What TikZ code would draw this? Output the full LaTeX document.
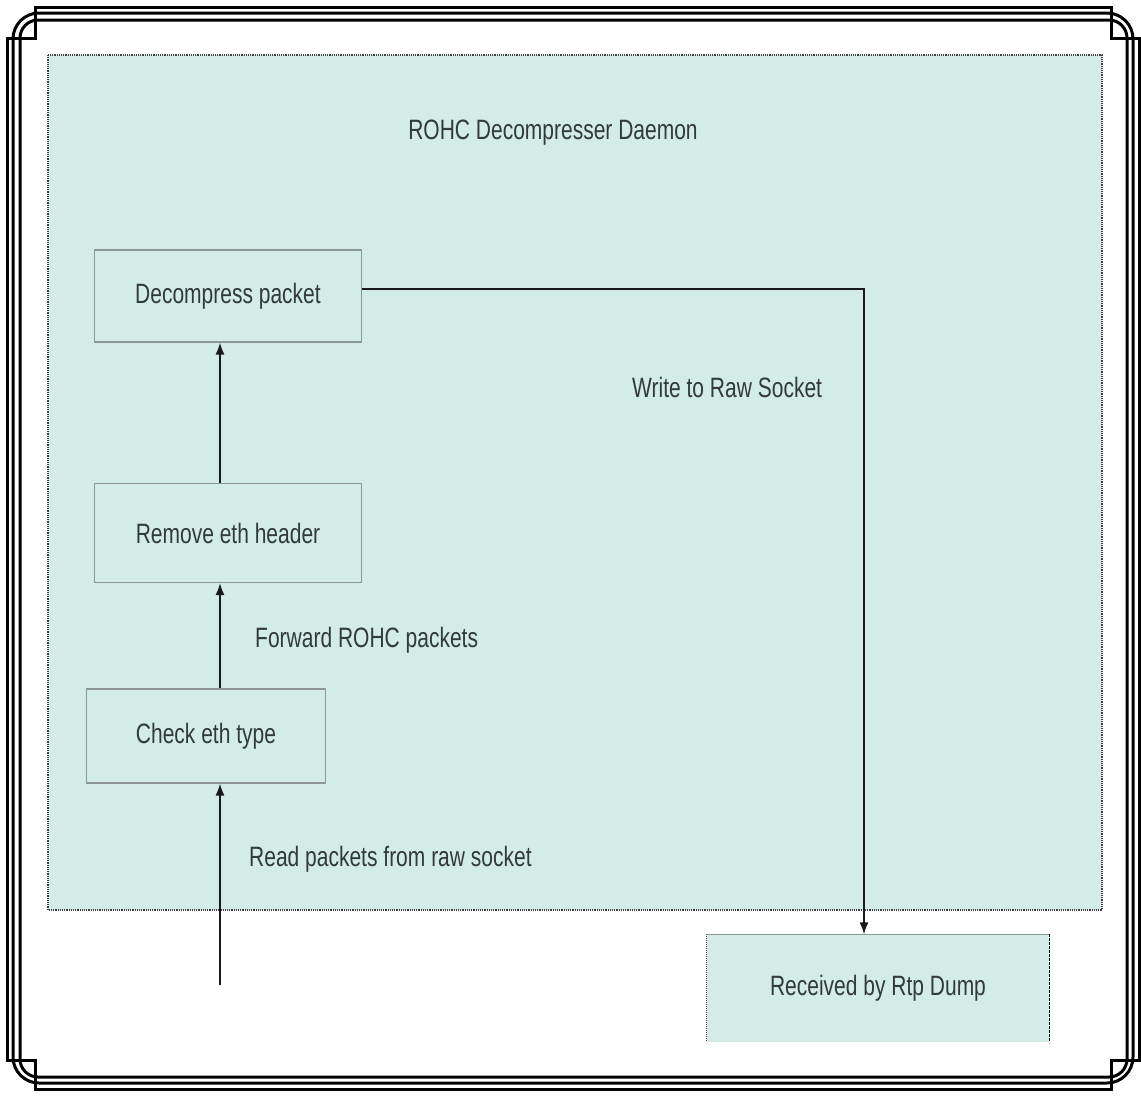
\documentclass[tikz,border=0pt]{standalone}
\usepackage{fontspec}
\setmainfont{Liberation Sans}[FakeStretch=0.75]
\usepackage{xcolor}
\usepackage{tikz}
\usetikzlibrary{arrows, arrows.meta, positioning, calc}
\definecolor{panelcyan}{RGB}{211,236,232}
\definecolor{inkgray}{RGB}{50,58,58}
\definecolor{edgegray}{RGB}{140,150,150}

\begin{document}
\begin{tikzpicture}[x=1pt, y=-1pt,
    every node/.style={font=\fontsize{28}{32}\selectfont},
    procbox/.style={draw=edgegray, fill=panelcyan, line width=1.2pt, text=inkgray, inner sep=0pt},
    lbl/.style={text=inkgray, inner sep=0pt, anchor=west},
    flow/.style={draw=black!90, line width=1.6pt, -{Latex[length=12pt, width=9pt]}},
    frameline/.style={line width=3pt}]
    \useasboundingbox (0,0) rectangle (1141,1096);

    % The Page Border
    \draw[frameline, rounded corners=26] (13,13) rectangle (1133,1083);
    \draw[frameline, rounded corners=18] (20,20) rectangle (1127,1077);
    \draw[frameline] (35,7) -- (1111,7) -- (1111,38) -- (1139,38) -- (1139,1060)
        -- (1111,1060) -- (1111,1089) -- (35,1089) -- (35,1060) -- (7,1060)
        -- (7,38) -- (35,38) -- cycle;

    % The Daemon (Background Panel)
    \draw[black!75, densely dotted, line width=1.2pt, fill=panelcyan] (48,55) rectangle (1102,910);
    \node[lbl, anchor=center] (title) at (553,133) {ROHC Decompresser Daemon};

    % The Steps
    \node[procbox, minimum width=267, minimum height=92] (decomp) at (228,296) {Decompress packet};
    \node[procbox, minimum width=267, minimum height=99] (remove) at (228,533) {Remove eth header};
    \node[procbox, minimum width=239, minimum height=94] (check) at (206,736) {Check eth type};

    % The Receiver
    \node[fill=panelcyan, text=inkgray, inner sep=0pt, minimum width=342, minimum height=107] (rtpdump) at (878,988) {Received by Rtp Dump};
    \draw[edgegray, line width=1.2pt] (rtpdump.north west) -- (rtpdump.north east);
    \draw[black!70, densely dotted, line width=1pt] (rtpdump.north west) -- (rtpdump.south west);
    \draw[black, dash pattern=on 3pt off 1pt, line width=1.2pt] (rtpdump.north east) -- (rtpdump.south east);

    % The Flow
    \coordinate (rawin) at (220,985);
    \coordinate (bend) at (864,289);
    \draw[flow] (rawin) -- (rawin |- check.south);
    \draw[flow] (rawin |- check.north) -- (rawin |- remove.south);
    \draw[flow] (rawin |- remove.north) -- (rawin |- decomp.south);
    \draw[flow] (decomp.east |- bend) -- (bend) -- (bend |- rtpdump.north);

    % Annotation
    \node[lbl] (readlbl) at (249,859) {Read packets from raw socket};
    \node[lbl] (fwdlbl) at (255,640) {Forward ROHC packets};
    \node[lbl] (writelbl) at (632,387) {Write to Raw Socket};
\end{tikzpicture}
\end{document}
